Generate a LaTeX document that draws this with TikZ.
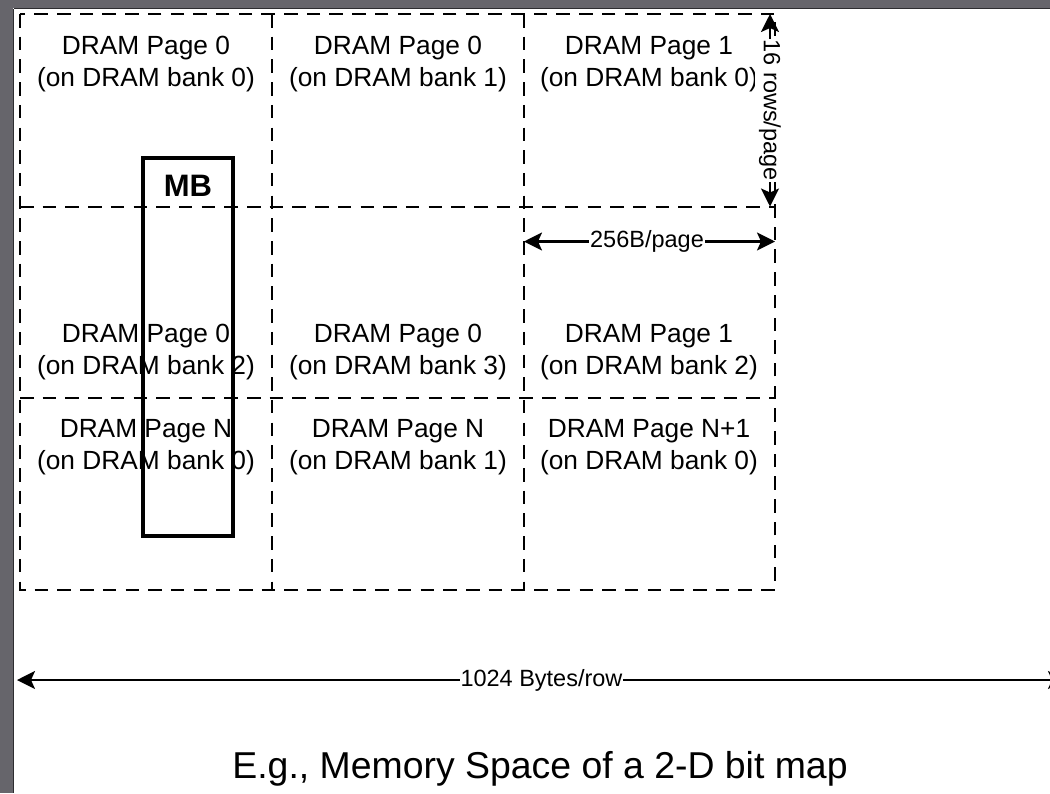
\documentclass[tikz,border=0pt]{standalone}
\usepackage{fontspec}
\setmainfont{Liberation Sans}
\usetikzlibrary{arrows.meta}
\definecolor{framegray}{RGB}{102,101,107}
\definecolor{frameedge}{RGB}{45,45,48}

\tikzset{
  gridline/.style={line width=2pt, dash pattern=on 13.5pt off 9.2pt},
  celltext/.style={align=center, inner sep=0pt,
    font=\fontsize{26.3}{32}\selectfont},
  mbbox/.style={draw, line width=4.5pt, minimum width=90pt, minimum height=378pt,
    inner sep=0pt},
  mblabel/.style={inner sep=0pt, font=\fontsize{31}{36}\selectfont\bfseries},
  dim/.style={line width=2.1pt, {Stealth[length=18pt,width=18pt,inset=4pt]}-{Stealth[length=18pt,width=18pt,inset=4pt]}},
  dimlabel/.style={fill=white, inner sep=1pt, font=\fontsize{23.5}{28}\selectfont},
  titletext/.style={inner sep=0pt, font=\fontsize{37.4}{44}\selectfont}
}

\begin{document}
\begin{tikzpicture}[x=1pt, y=-1pt]
\useasboundingbox (0,0) rectangle (1050,793);
\clip (0,0) rectangle (1050,793);
\fill[white] (0,0) rectangle (1050,793);

% window frame
\fill[framegray] (0,0) rectangle (13,793);
\fill[framegray] (0,0) rectangle (1050,8);
\draw[frameedge, line width=1.2pt] (13.6,8.6) -- (13.6,793);
\draw[frameedge, line width=1.2pt] (13.6,8.6) -- (1050,8.6);

% page grid: 3 columns x 3 rows of DRAM pages
\draw[gridline] (20,14) rectangle (775,589.5);
\draw[gridline] (272,14) -- (272,589.5);
\draw[gridline] (523.5,14) -- (523.5,589.5);
\draw[gridline] (20,206.5) -- (775,206.5);
\draw[gridline] (20,398) -- (775,398);

% page labels
\node[celltext] (p11) at (146,64.5) {DRAM Page 0\\(on DRAM bank 0)};
\node[celltext] (p12) at (398,64.5) {DRAM Page 0\\(on DRAM bank 1)};
\node[celltext] (p13) at (649,64.5) {DRAM Page 1\\(on DRAM bank 0)};
\node[celltext] (p21) at (146,352.5) {DRAM Page 0\\(on DRAM bank 2)};
\node[celltext] (p22) at (398,352.5) {DRAM Page 0\\(on DRAM bank 3)};
\node[celltext] (p23) at (649,352.5) {DRAM Page 1\\(on DRAM bank 2)};
\node[celltext] (p31) at (146,447.5) {DRAM Page N\\(on DRAM bank 0)};
\node[celltext] (p32) at (398,447.5) {DRAM Page N\\(on DRAM bank 1)};
\node[celltext] (p33) at (649,447.5) {DRAM Page N+1\\(on DRAM bank 0)};

% macro block
\node[mbbox] (mb) at (188,347) {};
\node[mblabel] (mbl) at (188,186) {MB};

% dimensions
\coordinate (rt) at (770,14);
\coordinate (rb) at (770,206.5);
\draw[dim] (rt) -- (rb) node[dimlabel, inner ysep=4pt, midway, rotate=-90] {16 rows/page};

\coordinate (wl) at (524,241.5);
\coordinate (wr) at (775,241.5);
\draw[dim] (wl) -- (wr) node[dimlabel, pos=0.49] {256B/page};

\coordinate (bl) at (17,680);
\coordinate (br) at (1066,680);
\draw[dim] (bl) -- (br) node[dimlabel, midway] {1024 Bytes/row};

% caption
\node[titletext] (title) at (540,768.5) {E.g., Memory Space of a 2-D bit map};
\end{tikzpicture}
\end{document}
